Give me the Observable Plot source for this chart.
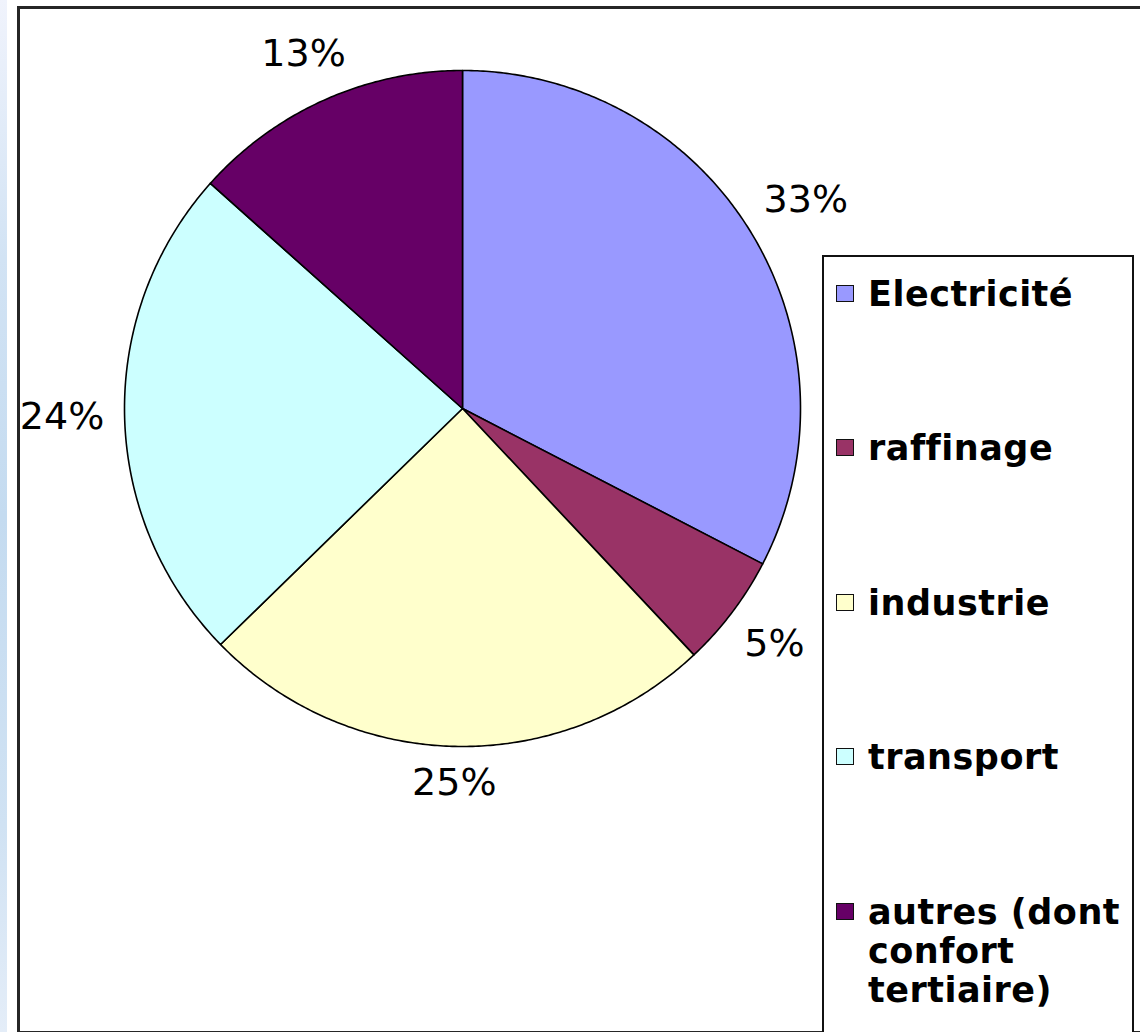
<!DOCTYPE html>
<html>
<head>
<meta charset="utf-8">
<script src="https://cdn.jsdelivr.net/npm/d3@7"></script>
<script src="https://cdn.jsdelivr.net/npm/@observablehq/plot@0.6"></script>
<style>
  html, body { margin: 0; padding: 0; background: #fff; }
  #wrap { position: relative; width: 1140px; height: 1032px; overflow: hidden; background: #fff; }
  #strip { position: absolute; left: 0; top: 0; width: 7px; height: 1032px;
    background: linear-gradient(to bottom, #f0f3fc 0%, #d2e3f4 25%, #c4dbf0 50%, #d0e2f3 80%, #e4edf8 100%); }
  #frame { position: absolute; left: 17px; top: 6px; width: 1200px; height: 1022px;
    border: 3px solid #262626; box-sizing: content-box; }
  #chart { position: absolute; left: 0; top: 0; }
  #legend { position: absolute; left: 822px; top: 255px; width: 308px; height: 820px;
    border: 2px solid #111; background: #fff; }
  .item { position: absolute; left: 0; width: 300px; }
  .sw { position: absolute; left: 12px; width: 16px; height: 15px; border: 1.5px solid #111; }
  .lab { position: absolute; left: 44px; width: 262px; font-family: "DejaVu Sans", sans-serif;
    font-weight: bold; font-size: 35px; line-height: 39px; color: #000; letter-spacing: 0.5px; }
</style>
</head>
<body>
<div id="wrap">
  <div id="strip"></div>
  <div id="frame"></div>
  <div id="chart"></div>
  <div id="legend"></div>
</div>
<script>
// ---- data ----
const categories = ["Electricité", "raffinage", "industrie", "transport", "autres (dont confort tertiaire)"];
const shares = [32.6, 5.4, 24.7, 23.9, 13.4];
const labels = ["33%", "5%", "25%", "24%", "13%"];
const colors = ["#9999FF", "#993366", "#FFFFCC", "#CCFFFF", "#660066"];

// ---- layout ----
const W = 1140, H = 1032;
const cx = 462, cy = 408, R = 338;

const arcs = d3.pie().sort(null).value(d => d)(shares);

// polygon points for each slice (unit-circle coordinates, y up)
const wedgePts = [];
arcs.forEach((a, i) => {
  const cat = categories[i];
  wedgePts.push({cat, x: 0, y: 0});
  const n = Math.max(4, Math.ceil((a.endAngle - a.startAngle) / (Math.PI / 360)));
  for (let k = 0; k <= n; k++) {
    const t = a.startAngle + (a.endAngle - a.startAngle) * k / n;
    wedgePts.push({cat, x: Math.sin(t), y: Math.cos(t)});
  }
});

// label positions just outside the pie
const labelFont = 38;
const labelPts = arcs.map((a, i) => {
  const m = (a.startAngle + a.endAngle) / 2;
  const s = Math.sin(m), c = Math.cos(m);
  const txt = labels[i];
  const hw = labelFont * (0.636 * (txt.length - 1) + 0.95) / 2;
  const hh = 15;
  const r = 1 + (20 + Math.abs(s) * hw + Math.abs(c) * hh) / R;
  return {text: txt, x: s * r, y: c * r};
});

const chart = Plot.plot({
  width: W,
  height: H,
  margin: 0,
  style: {background: "transparent", overflow: "visible"},
  x: {domain: [-cx / R, (W - cx) / R], axis: null},
  y: {domain: [-(H - cy) / R, cy / R], axis: null},
  color: {domain: categories, range: colors},
  marks: [
    Plot.line(wedgePts, {
      x: "x", y: "y", z: "cat", fill: "cat",
      stroke: "#000", strokeWidth: 1.6, curve: "linear-closed", strokeLinejoin: "round"
    }),
    Plot.text(labelPts, {
      x: "x", y: "y", text: "text",
      fontSize: labelFont, fontFamily: "DejaVu Sans, sans-serif", fill: "#000",
      textAnchor: "middle"
    })
  ]
});
document.getElementById("chart").appendChild(chart);

// ---- legend ----
const legend = document.getElementById("legend");
const first = 37, step = 154.5;
categories.forEach((cat, i) => {
  const item = document.createElement("div");
  item.className = "item";
  item.style.top = (first + i * step - 19.5) + "px";
  const sw = document.createElement("div");
  sw.className = "sw";
  sw.style.background = colors[i];
  sw.style.top = "10px";
  const lab = document.createElement("div");
  lab.className = "lab";
  lab.style.top = "0px";
  lab.textContent = cat;
  item.appendChild(sw);
  item.appendChild(lab);
  legend.appendChild(item);
});
</script>
</body>
</html>
